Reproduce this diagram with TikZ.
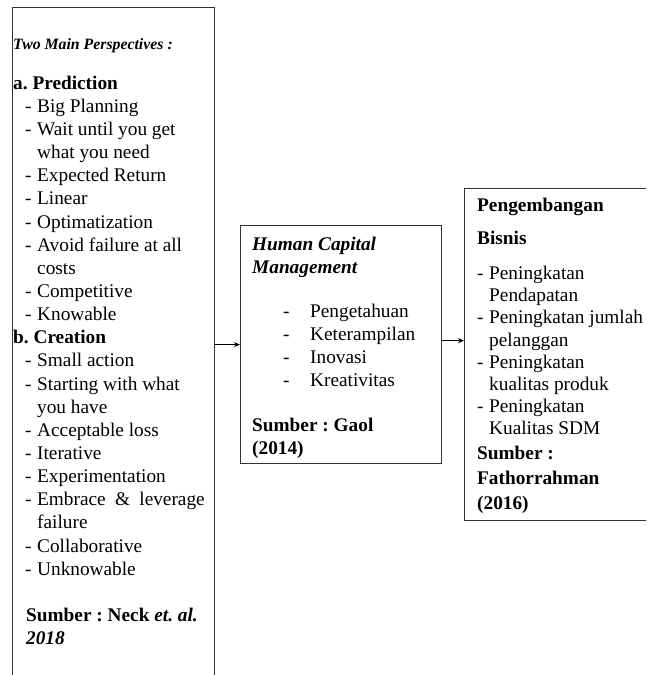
\documentclass[tikz,border=0pt]{standalone}
\usepackage{fontspec}
\setmainfont{Liberation Serif}
\usetikzlibrary{arrows.meta}
\frenchspacing

\tikzset{
	kotak/.style={draw=black!80, line width=1.2pt, inner sep=0pt, anchor=north west},
	isi/.style={inner sep=0pt, align=left, anchor=north west},
	judul/.style={inner sep=0pt, anchor=base west},
	panah/.style={-{Stealth[length=6pt,width=5pt]}, line width=0.8pt}
}
\newcommand{\butir}[1]{\hspace*{12pt}\makebox[12pt][l]{-}#1}
\newcommand{\lanjut}[1]{\hspace*{24pt}#1}
\newcommand{\butirhcm}[1]{\hspace*{31pt}\makebox[27pt][l]{-}#1}

\begin{document}
\begin{tikzpicture}[x=1pt,y=-1pt]
		\useasboundingbox (0,0) rectangle (646,675);
		\clip (0,0) rectangle (646,675);
		% kotak
		\node[kotak, minimum width=202pt, minimum height=720pt] (pred) at (12,7) {};
		\node[kotak, minimum width=201pt, minimum height=238pt] (hcm) at (240,225) {};
		\node[kotak, minimum width=220pt, minimum height=332pt] (bisnis) at (464,188) {};
		% kiri
		\node[judul, font=\fontsize{15.8}{19}\selectfont\bfseries\itshape] (judulpred) at (13,49) {Two Main Perspectives :};
		\node[isi, font=\fontsize{19.3}{23.15}\selectfont] (isipred) at (13,75.5) {%
			\textbf{a. Prediction}\\
			\butir{Big Planning}\\
			\butir{Wait until you get}\\
			\lanjut{what you need}\\
			\butir{Expected Return}\\
			\butir{Linear}\\
			\butir{Optimatization}\\
			\butir{Avoid failure at all}\\
			\lanjut{costs}\\
			\butir{Competitive}\\
			\butir{Knowable}\\
			\textbf{b. Creation}\\
			\butir{Small action}\\
			\butir{Starting with what}\\
			\lanjut{you have}\\
			\butir{Acceptable loss}\\
			\butir{Iterative}\\
			\butir{Experimentation}\\
			\butir{Embrace\hspace{9.3pt}\&\hspace{9.3pt}leverage}\\
			\lanjut{failure}\\
			\butir{Collaborative}\\
			\butir{Unknowable}\\[23.15pt]
			\hspace*{13pt}\textbf{Sumber : Neck \textit{et. al.}}\\
			\hspace*{13pt}\textbf{\textit{2018}}};
		% tengah
		\node[isi, font=\fontsize{19.3}{22.8}\selectfont] (isihcm) at (252,237) {%
			\textbf{\textit{Human Capital}}\\
			\textbf{\textit{Management}}\\[21.8pt]
			\butirhcm{Pengetahuan}\\
			\butirhcm{Keterampilan}\\
			\butirhcm{Inovasi}\\
			\butirhcm{Kreativitas}\\[22.8pt]
			\textbf{Sumber : Gaol}\\
			\textbf{(2014)}};
		% kanan
		\node[isi, font=\fontsize{19.3}{22.2}\selectfont] (isibisnis) at (477,198) {%
			\textbf{Pengembangan}\\[10.8pt]
			\textbf{Bisnis}\\[12.8pt]
			\makebox[12pt][l]{-}Peningkatan\\
			\hspace*{12pt}Pendapatan\\
			\makebox[12pt][l]{-}Peningkatan jumlah\\
			\hspace*{12pt}pelanggan\\
			\makebox[12pt][l]{-}Peningkatan\\
			\hspace*{12pt}kualitas produk\\
			\makebox[12pt][l]{-}Peningkatan\\
			\hspace*{12pt}Kualitas SDM\\[2.8pt]
			\textbf{Sumber :}\\[2.8pt]
			\textbf{Fathorrahman}\\[2.8pt]
			\textbf{(2016)}};
		% panah
		\draw[panah] (pred.east |- hcm.west) -- (hcm.west);
		\draw[panah] ([yshift=4pt]hcm.east) -- ([yshift=4pt]hcm.east -| bisnis.west);
\end{tikzpicture}
\end{document}
